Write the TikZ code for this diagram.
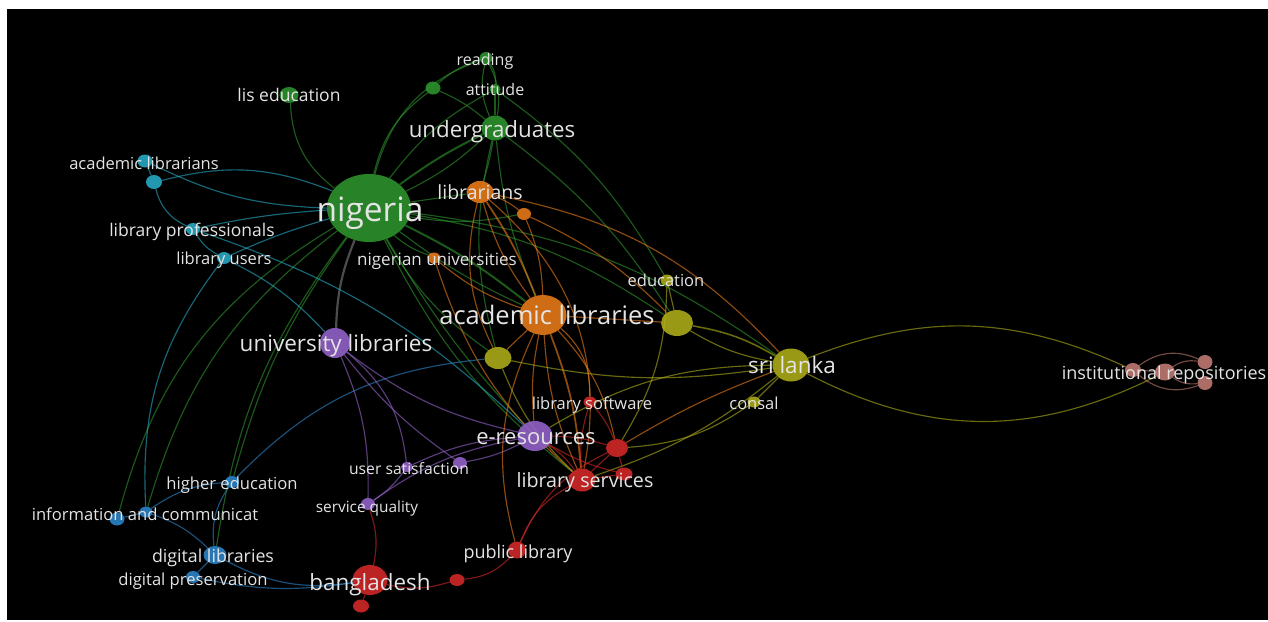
\documentclass[tikz,border=0pt]{standalone}
\usepackage{fontspec}
\setmainfont{Open Sans}
\usetikzlibrary{shapes.geometric}
\pgfdeclarelayer{bg}
\pgfsetlayers{bg,main}
\definecolor{vgreen}{RGB}{46,150,46}
\definecolor{vcyan}{RGB}{40,172,200}
\definecolor{vblue}{RGB}{45,135,205}
\definecolor{vpurple}{RGB}{150,100,205}
\definecolor{vorange}{RGB}{235,125,25}
\definecolor{volive}{RGB}{175,175,25}
\definecolor{vred}{RGB}{215,40,40}
\definecolor{vbrown}{RGB}{195,125,115}
\definecolor{vlabel}{RGB}{228,228,228}
\tikzset{
	kw/.style={ellipse, inner sep=0pt, draw=none, fill=#1, fill opacity=0.88},
	lbl/.style={font=\fontsize{#1}{#1}\selectfont, text=vlabel, inner sep=0pt, anchor=mid},
	lnk/.style={draw=#1, draw opacity=0.6, line width=1.15pt},
}

\begin{document}
\begin{tikzpicture}[x=1pt, y=-1pt]
			%%%%% START %%%%%
			
			\useasboundingbox (0,0) rectangle (1268,621);
			
			\node[kw=vgreen, minimum width=84, minimum height=68] (nigeria) at (369,208) {};
			\node[kw=vgreen, minimum width=27, minimum height=25] (undergrad) at (495,128) {};
			\node[kw=vgreen, minimum width=13, minimum height=12] (reading) at (486,58) {};
			\node[kw=vgreen, minimum width=11, minimum height=10] (attitude) at (495,89) {};
			\node[kw=vgreen, minimum width=15, minimum height=13] (green1) at (433,88) {};
			\node[kw=vgreen, minimum width=19, minimum height=16] (lised) at (289,95) {};
			
			\node[kw=vcyan, minimum width=15, minimum height=13] (acadlib) at (145,161) {};
			\node[kw=vcyan, minimum width=16, minimum height=14] (cyan1) at (154,182) {};
			\node[kw=vcyan, minimum width=14, minimum height=12] (libprof) at (193,229) {};
			\node[kw=vcyan, minimum width=14, minimum height=12] (libusers) at (224,258) {};
			
			\node[kw=vorange, minimum width=27, minimum height=22] (librarians) at (480,192) {};
			\node[kw=vorange, minimum width=14, minimum height=12] (orange1) at (524,214) {};
			\node[kw=vorange, minimum width=13, minimum height=11] (niguni) at (434,258) {};
			\node[kw=vorange, minimum width=47, minimum height=40] (acadlibs) at (543,315) {};
			
			\node[kw=volive, minimum width=32, minimum height=26] (olive1) at (677,323) {};
			\node[kw=volive, minimum width=27, minimum height=22] (olive2) at (498,358) {};
			\node[kw=volive, minimum width=37, minimum height=33] (srilanka) at (791,365) {};
			\node[kw=volive, minimum width=13, minimum height=11] (education) at (667,280) {};
			\node[kw=volive, minimum width=13, minimum height=11] (consal) at (754,402) {};
			
			\node[kw=vpurple, minimum width=30, minimum height=30] (unilibs) at (335,343) {};
			\node[kw=vpurple, minimum width=35, minimum height=30] (eres) at (535,436) {};
			\node[kw=vpurple, minimum width=12, minimum height=10] (usersat) at (407,467) {};
			\node[kw=vpurple, minimum width=14, minimum height=12] (purple1) at (460,463) {};
			\node[kw=vpurple, minimum width=14, minimum height=12] (servq) at (368,504) {};
			
			\node[kw=vred, minimum width=13, minimum height=11] (libsoft) at (590,402) {};
			\node[kw=vred, minimum width=27, minimum height=23] (libserv) at (582,480) {};
			\node[kw=vred, minimum width=22, minimum height=18] (red1) at (617,448) {};
			\node[kw=vred, minimum width=17, minimum height=13] (red2) at (624,474) {};
			\node[kw=vred, minimum width=18, minimum height=17] (publib) at (517,550) {};
			\node[kw=vred, minimum width=15, minimum height=12] (red3) at (457,580) {};
			\node[kw=vred, minimum width=35, minimum height=30] (bangladesh) at (370,580) {};
			\node[kw=vred, minimum width=16, minimum height=13] (red4) at (361,606) {};
			
			\node[kw=vblue, minimum width=14, minimum height=12] (highered) at (232,482) {};
			\node[kw=vblue, minimum width=13, minimum height=11] (infocom) at (146,512) {};
			\node[kw=vblue, minimum width=15, minimum height=13] (blue1) at (117,519) {};
			\node[kw=vblue, minimum width=23, minimum height=18] (diglibs) at (215,555) {};
			\node[kw=vblue, minimum width=14, minimum height=12] (digpres) at (193,577) {};
			
			\node[kw=vbrown, minimum width=20, minimum height=17] (instrep) at (1165,372) {};
			\node[kw=vbrown, minimum width=16, minimum height=14] (brown1) at (1133,370) {};
			\node[kw=vbrown, minimum width=15, minimum height=14] (brown2) at (1205,362) {};
			\node[kw=vbrown, minimum width=15, minimum height=14] (brown3) at (1205,383) {};
			
			\begin{pgfonlayer}{bg}
				\fill[white] (0,0) rectangle (1268,621);
				\fill[black] (7,9) rectangle (1268,620);
				
				% nigeria
				\draw[lnk=vgreen] (nigeria) to[bend left=25] (lised);
				\draw[lnk=vgreen, line width=2pt] (nigeria) to[bend left=5] (undergrad);
				\draw[lnk=vgreen] (nigeria) to[bend right=8] (undergrad);
				\draw[lnk=vgreen] (nigeria) to[bend left=20] (green1);
				\draw[lnk=vgreen] (nigeria) to[bend left=28] (reading);
				\draw[lnk=vgreen] (nigeria) to[bend left=12] (attitude);
				\draw[lnk=vgreen] (nigeria) -- (librarians);
				\draw[lnk=vgreen] (nigeria) to[bend right=10] (orange1);
				\draw[lnk=vgreen] (nigeria) to[bend right=10] (niguni);
				\draw[lnk=vgreen, line width=2pt] (nigeria) to[bend left=6] (acadlibs);
				\draw[lnk=vgreen] (nigeria) to[bend right=6] (acadlibs);
				\draw[lnk=vgreen] (nigeria) to[bend left=12] (olive1);
				\draw[lnk=vgreen] (nigeria) to[bend left=14] (srilanka);
				\draw[lnk=vgreen] (nigeria) to[bend right=12] (olive2);
				\draw[lnk=vgreen] (nigeria) to[bend right=6] (eres);
				\draw[lnk=vgreen] (nigeria) to[bend right=12] (libserv);
				\draw[lnk=gray, line width=2.2pt] (nigeria) to[bend right=10] (unilibs);
				\draw[lnk=vgreen] (nigeria) to[bend right=10] (highered);
				\draw[lnk=vgreen] (nigeria) to[bend right=18] (infocom);
				\draw[lnk=vgreen] (nigeria) to[bend right=14] (diglibs);
				\draw[lnk=vgreen] (nigeria) to[bend right=22] (blue1);
				\draw[lnk=vcyan] (acadlib) to[bend right=12] (nigeria);
				\draw[lnk=vcyan] (cyan1) to[bend left=18] (nigeria);
				\draw[lnk=vcyan] (libprof) to[bend left=4] (nigeria);
				\draw[lnk=vcyan] (libusers) to[bend left=4] (nigeria);
				
				% green
				\draw[lnk=vgreen] (green1) to[bend left=12] (reading);
				\draw[lnk=vgreen] (green1) to[bend left=8] (undergrad);
				\draw[lnk=vgreen] (reading) to[bend left=18] (undergrad);
				\draw[lnk=vgreen] (reading) to[bend right=18] (undergrad);
				\draw[lnk=vgreen] (attitude) -- (undergrad);
				\draw[lnk=vgreen] (reading) to[bend left=20] (attitude);
				\draw[lnk=vgreen] (undergrad) to[bend right=8] (acadlibs);
				\draw[lnk=vgreen] (undergrad) to[bend left=10] (olive1);
				\draw[lnk=vgreen] (undergrad) to[bend right=14] (olive2);
				\draw[lnk=vgreen] (undergrad) to[bend left=4] (librarians);
				\draw[lnk=vgreen] (attitude) to[bend left=12] (education);
				
				% cyan and blue
				\draw[lnk=vcyan] (acadlib) -- (cyan1);
				\draw[lnk=vcyan] (cyan1) to[bend right=25] (libprof);
				\draw[lnk=vcyan] (libprof) to[bend right=15] (libusers);
				\draw[lnk=vcyan] (libprof) to[bend left=12] (eres);
				\draw[lnk=vcyan] (libusers) to[bend left=10] (unilibs);
				\draw[lnk=vcyan] (libusers) to[bend right=20] (infocom);
				\draw[lnk=vblue] (blue1) -- (infocom);
				\draw[lnk=vblue] (infocom) to[bend left=15] (highered);
				\draw[lnk=vblue] (infocom) to[bend left=12] (diglibs);
				\draw[lnk=vblue] (highered) to[bend left=20] (olive2);
				\draw[lnk=vblue] (diglibs) to[bend left=20] (highered);
				\draw[lnk=vblue] (diglibs) -- (digpres);
				\draw[lnk=vblue] (diglibs) to[bend right=18] (bangladesh);
				\draw[lnk=vblue] (digpres) to[bend right=10] (bangladesh);
				
				% purple
				\draw[lnk=vpurple] (unilibs) to[bend right=12] (eres);
				\draw[lnk=vpurple] (unilibs) to[bend left=22] (usersat);
				\draw[lnk=vpurple] (unilibs) to[bend left=12] (servq);
				\draw[lnk=vpurple] (unilibs) to[bend right=8] (purple1);
				\draw[lnk=vpurple] (eres) to[bend right=10] (usersat);
				\draw[lnk=vpurple] (eres) to[bend left=8] (purple1);
				\draw[lnk=vpurple] (eres) to[bend right=12] (servq);
				\draw[lnk=vpurple] (usersat) to[bend left=10] (servq);
				
				% orange
				\draw[lnk=vorange, line width=1.8pt] (librarians) to[bend left=6] (acadlibs);
				\draw[lnk=vorange] (librarians) to[bend right=10] (acadlibs);
				\draw[lnk=vorange] (orange1) to[bend left=10] (acadlibs);
				\draw[lnk=vorange] (niguni) to[bend right=10] (acadlibs);
				\draw[lnk=vorange] (librarians) to[bend left=30] (libserv);
				\draw[lnk=vorange] (librarians) to[bend right=20] (olive2);
				\draw[lnk=vorange] (niguni) to[bend right=15] (libserv);
				\draw[lnk=vorange] (librarians) to[bend left=18] (srilanka);
				\draw[lnk=vorange] (orange1) to[bend left=10] (olive1);
				\draw[lnk=vorange] (librarians) to[bend left=10] (orange1);
				\draw[lnk=vorange, line width=1.8pt] (acadlibs) to[bend left=8] (libserv);
				\draw[lnk=vorange] (acadlibs) to[bend right=10] (libserv);
				\draw[lnk=vorange] (acadlibs) to[bend right=8] (eres);
				\draw[lnk=vorange] (acadlibs) to[bend left=15] (red1);
				\draw[lnk=vorange] (acadlibs) to[bend left=25] (libsoft);
				\draw[lnk=vorange] (acadlibs) -- (olive1);
				\draw[lnk=vorange] (acadlibs) -- (olive2);
				\draw[lnk=vorange] (acadlibs) to[bend right=20] (publib);
				
				% olive
				\draw[lnk=volive, line width=1.6pt] (olive1) to[bend left=10] (srilanka);
				\draw[lnk=volive] (olive1) to[bend right=10] (srilanka);
				\draw[lnk=volive] (education) -- (olive1);
				\draw[lnk=volive] (education) to[bend left=15] (red1);
				\draw[lnk=volive] (olive2) to[bend right=10] (srilanka);
				\draw[lnk=volive] (olive2) to[bend right=12] (libserv);
				\draw[lnk=volive] (srilanka) to[bend left=23] (brown1);
				\draw[lnk=volive] (srilanka) to[bend right=27] (instrep);
				\draw[lnk=volive] (srilanka) -- (consal);
				\draw[lnk=volive] (consal) to[bend left=15] (red1);
				\draw[lnk=volive] (srilanka) to[bend right=15] (eres);
				\draw[lnk=volive] (srilanka) to[bend left=10] (libserv);
				\draw[lnk=vorange] (red1) to[bend left=5] (srilanka);
				
				% red
				\draw[lnk=vred] (libserv) -- (red1);
				\draw[lnk=vred] (libserv) -- (red2);
				\draw[lnk=vred] (red1) -- (red2);
				\draw[lnk=vred] (eres) to[bend left=10] (libserv);
				\draw[lnk=vred] (eres) to[bend left=8] (red1);
				\draw[lnk=vred] (eres) to[bend right=8] (red2);
				\draw[lnk=vred] (libsoft) to[bend right=10] (libserv);
				\draw[lnk=vred] (libsoft) to[bend left=10] (red1);
				\draw[lnk=vred] (libserv) to[bend right=20] (publib);
				\draw[lnk=vred] (red1) to[bend right=20] (publib);
				\draw[lnk=vred] (publib) to[bend left=20] (red3);
				\draw[lnk=vred] (red3) to[bend left=15] (bangladesh);
				\draw[lnk=vred] (bangladesh) -- (red4);
				\draw[lnk=vred] (servq) to[bend left=15] (bangladesh);
				
				% institutional repositories
				\draw[lnk=vbrown] (brown1) -- (instrep);
				\draw[lnk=vbrown] (instrep) to[bend left=20] (brown2);
				\draw[lnk=vbrown] (instrep) to[bend right=20] (brown3);
				\draw[lnk=vbrown] (brown1) to[bend left=30] (brown2);
				\draw[lnk=vbrown] (brown1) to[bend right=30] (brown3);
			\end{pgfonlayer}
			
			\node[lbl=33.5] (nigeria-t) at (370,219) {nigeria};
			\node[lbl=22.3] (undergrad-t) at (492,135) {undergraduates};
			\node[lbl=16] (reading-t) at (485,63) {reading};
			\node[lbl=16] (attitude-t) at (495,93) {attitude};
			\node[lbl=17.5] (lised-t) at (289,99) {lis education};
			\node[lbl=16.5] (acadlib-t) at (144,167) {academic librarians};
			\node[lbl=17.5] (libprof-t) at (192,234) {library professionals};
			\node[lbl=16.5] (libusers-t) at (224,262) {library users};
			\node[lbl=19.5] (librarians-t) at (480,197) {librarians};
			\node[lbl=17] (niguni-t) at (437,263) {nigerian universities};
			\node[lbl=25.5] (acadlibs-t) at (547,322) {academic libraries};
			\node[lbl=16.5] (education-t) at (666,284) {education};
			\node[lbl=22.5] (srilanka-t) at (792,371) {sri lanka};
			\node[lbl=16.5] (consal-t) at (754,407) {consal};
			\node[lbl=22.5] (unilibs-t) at (336,349) {university libraries};
			\node[lbl=16.5] (libsoft-t) at (592,407) {library software};
			\node[lbl=22] (eres-t) at (536,442) {e-resources};
			\node[lbl=15.7] (usersat-t) at (409,472) {user satisfaction};
			\node[lbl=19.7] (libserv-t) at (585,485) {library services};
			\node[lbl=16.6] (highered-t) at (232,487) {higher education};
			\node[lbl=15.4] (servq-t) at (367,510) {service quality};
			\node[lbl=16.6] (infocom-t) at (145,518) {information and communicat};
			\node[lbl=18] (publib-t) at (518,556) {public library};
			\node[lbl=17.8] (diglibs-t) at (213,560) {digital libraries};
			\node[lbl=16.6] (digpres-t) at (193,583) {digital preservation};
			\node[lbl=22.4] (bangladesh-t) at (370,588) {bangladesh};
			\node[lbl=18] (instrep-t) at (1164,377) {institutional repositories};
			
			%%%%% END %%%%%
\end{tikzpicture}
\end{document}
